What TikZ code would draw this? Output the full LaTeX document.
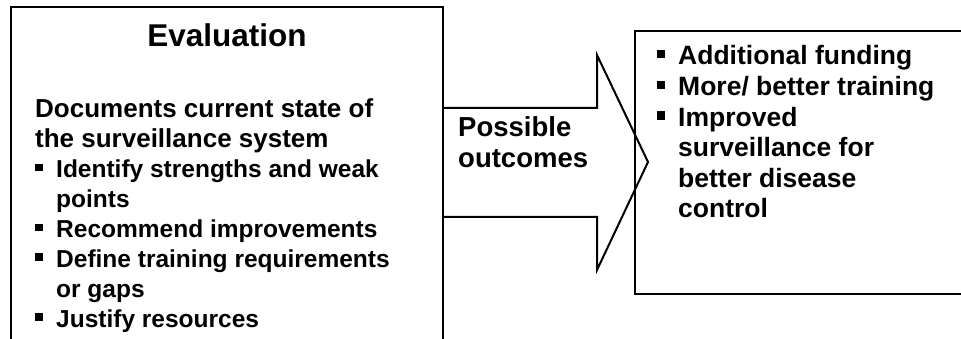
\documentclass[tikz,border=0pt]{standalone}
\usepackage{fontspec}
\setmainfont{Liberation Sans}
\usetikzlibrary{positioning}

\newcommand{\sqbul}{\makebox[21pt][l]{\rule[0.25em]{0.31em}{0.31em}}}
\newcommand{\hang}{\makebox[21pt]{}}
\newcommand{\leadsize}{\fontsize{26}{29.9}\selectfont}

\tikzset{
  frame/.style={line width=2.8pt},
  shaft/.style={line width=2pt, line join=miter},
  % base anchor of a multi-line node sits on its last line
  body/.style={font=\bfseries\fontsize{24.5}{29.9}\selectfont, align=left, inner sep=0pt, anchor=base west},
  bigbody/.style={body, font=\bfseries\fontsize{26.5}{30.6}\selectfont},
  midbody/.style={body, font=\bfseries\fontsize{27.5}{31}\selectfont},
  heading/.style={font=\bfseries\fontsize{31.5}{36}\selectfont, inner sep=0pt, anchor=base},
}

\begin{document}
\begin{tikzpicture}[x=1pt,y=-1pt]
    \useasboundingbox (0,0) rectangle (961,339);
    \clip (0,0) rectangle (961,339);
    % boxes
    \coordinate (evalNW) at (11,7);
    \coordinate (evalSE) at (443,360);
    \coordinate (outNW) at (635,31);
    \coordinate (outSE) at (980,294);
    \draw[frame] (evalNW) rectangle (evalSE);
    \draw[frame] (outNW) rectangle (outSE);
    % block arrow
    \coordinate (shaftTop) at (443,108);
    \coordinate (shaftBot) at (443,217);
    \coordinate (tip) at (648,162);
    \draw[shaft] (shaftTop) -- (597,108) -- (597,55) -- (tip) -- (597,270) -- (597,217) -- (shaftBot);
    % texts
    \node[heading] (title) at (227,47) {Evaluation};
    \node[body] (docs) at (35,327) {{\leadsize Documents current state of}\\
        {\leadsize the surveillance system}\\
        \sqbul Identify strengths and weak\\
        \hang points\\
        \sqbul Recommend improvements\\
        \sqbul Define training requirements\\
        \hang or gaps\\
        \sqbul Justify resources};
    \node[midbody] (possible) at (458,168) {Possible\\outcomes};
    \node[bigbody] (results) at (657,218) {\sqbul Additional funding\\
        \sqbul More/ better training\\
        \sqbul Improved\\
        \hang surveillance for\\
        \hang better disease\\
        \hang control};
\end{tikzpicture}
\end{document}
